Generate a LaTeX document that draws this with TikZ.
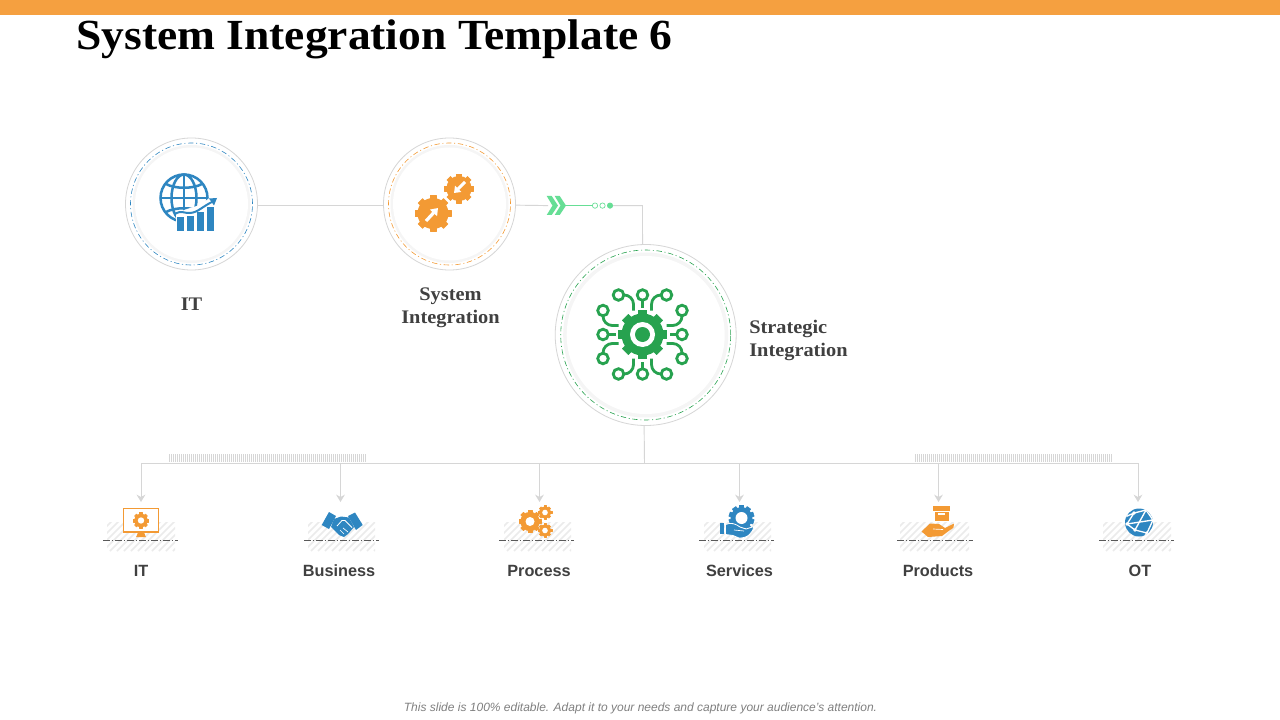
\documentclass[tikz,border=0pt]{standalone}
\usepackage{fontspec}
\setmainfont{Liberation Serif}
\setsansfont{Liberation Sans}
\newfontfamily\widefont[FakeStretch=1.06]{Liberation Serif}
\usepackage{tikz}
\usetikzlibrary{arrows.meta,calc,positioning}
\definecolor{topbar}{HTML}{F5A040}
\definecolor{iconblue}{HTML}{2E86C1}
\definecolor{iconorange}{HTML}{F39A34}
\definecolor{icongreen}{HTML}{27A24F}
\definecolor{arrowgreen}{HTML}{66DE95}
\definecolor{linegray}{HTML}{D6D6D6}
\definecolor{labelgray}{HTML}{404040}
\tikzset{
    x=0.75pt,y=-0.75pt,
    ring/.style ={circle, draw=linegray, fill=white, line width=0.6pt, inner sep=0pt},
    halo/.style ={circle, fill=#1, inner sep=0pt},
    dashring/.style ={circle, draw=#1, line width=0.45pt, inner sep=0pt, dash pattern=on 4pt off 2pt on 0.8pt off 2pt},
    link/.style = {draw=linegray, line width=0.7pt},
    droplink/.style = {link, -{Stealth[length=5.5pt,width=6.5pt]}},
    hublabel/.style = {font=\widefont\bfseries\fontsize{14.4}{17.4}\selectfont, text=labelgray, align=center, inner sep=0pt},
    itemlabel/.style = {font=\sffamily\bfseries\fontsize{12.2}{15}\selectfont, text=labelgray, inner sep=0pt},
    tick/.style = {draw=linegray, line width=0.45pt},
    hatch/.style = {draw=black!8, line width=1.3pt},
    floor/.style = {draw=black!65, line width=0.45pt, dash pattern=on 5pt off 1.5pt on 1pt off 1.5pt},
    dot/.style = {circle, draw=arrowgreen, fill=#1, line width=0.5pt, minimum size=4pt, inner sep=0pt},
}
% gear: x, y, radius, teeth, colour
\newcommand{\gearicon}[5]{
    \begin{scope}[shift={(#1,#2)}]
        \fill[#5] (0,0) circle[radius={0.84*#3}];
        \foreach \i in {1,...,#4}
            \filldraw[#5,line width=0.4pt,line join=round,rotate={\i*360/#4}] ({-0.17*#3},{-0.97*#3}) rectangle ({0.17*#3},{-0.6*#3});
    \end{scope}
}
\newcommand{\hatchpatch}[4]{
    \begin{scope}
        \clip (#1,#3) rectangle (#2,#4);
        \foreach \s in {0,7,...,105}
            \draw[hatch] ({#1+\s-32},#4) -- ++(34,-34);
    \end{scope}
}
\begin{document}
\begin{tikzpicture}
    \useasboundingbox (0,0) rectangle (1280,720);
    \fill[white] (0,0) rectangle (1280,720);
    \fill[topbar] (0,0) rectangle (1280,15);
    \node[anchor=base west, inner sep=0pt, font=\widefont\bfseries\fontsize{32.2}{36}\selectfont] (title) at (76,50) {System Integration Template 6};

    % the three hubs
    \foreach \name/\x/\y/\dout/\ddash/\dhalo/\dwhite/\col in {itring/191.5/204/132/122/118/113/iconblue, sysring/449.5/204/132/122/118/113/iconorange, stratring/645.7/335/181/170/165/158/icongreen}{
        \node[ring, minimum size=\dout*0.75pt] (\name) at (\x,\y) {};
        \node[halo=black!4, minimum size=\dhalo*0.75pt] (\name halo) at (\x,\y) {};
        \node[halo=white, minimum size=\dwhite*0.75pt] (\name core) at (\x,\y) {};
        \node[dashring=\col, minimum size=\ddash*0.75pt] (\name dash) at (\x,\y) {};
    }

    % green arrow on the line
    \foreach \s in {0,8}
        \fill[arrowgreen] ({546.7+\s},196) -- ({551.7+\s},196) -- ({558+\s},205.6) -- ({551.7+\s},215) -- ({546.7+\s},215) -- ({552.5+\s},205.6) -- cycle;
    \node[dot=white] (dota) at (595,205.6) {};
    \node[dot=white] (dotb) at (602.5,205.6) {};
    \node[dot=arrowgreen] (dotc) at (610,205.6) {};
    \coordinate (chevtail) at (548,205.6);
    \coordinate (chevtip) at (565,205.6);
    \coordinate (elbow) at (642.5,205.6);
    \coordinate (busjoin) at (644.5,463);
    \draw[link] (itring.-1) -- (sysring.181);
    \draw[link] (sysring.-1) -- (chevtail);
    \draw[arrowgreen, line width=1.1pt] (chevtip) -- (dota);
    \draw[link] (dotc) -- (elbow) -- (stratring.92);
    \draw[link] (stratring.269) -- (busjoin);

    \node[hublabel] (itlabel) at (191.5,304) {IT};
    \node[hublabel] (syslabel) at (450.5,308) {System\\Integration};
    \node[hublabel, align=left, anchor=west] (stratlabel) at (749,340.5) {Strategic\\Integration};

    % globe and bars
    \begin{scope}[iconblue, line width=1.9pt]
        \draw (184,198) circle[radius=23.5];
        \draw (184,198) ellipse[x radius=12.5, y radius=23.5];
        \draw (184,174.5) -- (184,221.5);
        \draw (160.5,198) -- (207.5,198);
        \draw (166,184) .. controls (175,189) and (193,189) .. (202,184);
        \draw (166,212) .. controls (175,207) and (193,207) .. (202,212);
    \end{scope}
    \fill[white] (176,213) -- (190,208) -- (200,205) -- (212,196) -- (222,194) -- (222,236) -- (176,236) -- cycle;
    \draw[iconblue, line width=1.5pt] (175,214) .. controls (181,210) and (185,213.5) .. (190,213) .. controls (198,212.5) and (203,206) .. (213,201.5);
    \fill[iconblue] (217,198) -- (209,198.5) -- (214,205.5) -- cycle;
    \foreach \x/\y in {176.7/217, 186.7/216, 196.7/212, 206.7/207}
        \fill[iconblue] (\x,\y) rectangle ({\x+7},231);

    % system gears
    \gearicon{433}{213.5}{18.5}{8}{iconorange}
    \gearicon{459}{188.5}{15}{8}{iconorange}
    \draw[white, line width=2.4pt, -{Triangle[length=5pt,width=7pt]}] (426,221) -- (438,208);
    \draw[white, line width=2.2pt, -{Triangle[length=4.5pt,width=6.5pt]}] (465,182) -- (454,193);

    % strategic icon
    \begin{scope}[shift={(642.5,334.5)}]
        \foreach \a in {0,90,180,270}{
            \begin{scope}[rotate=\a, icongreen, line width=2.1pt]
                \draw (0,-39.5) circle[radius=5.3];
                \draw (-24,-39.5) circle[radius=5.3];
                \draw (24,-39.5) circle[radius=5.3];
                \draw (0,-34) -- (0,-27);
                \draw[rounded corners=7pt] (-18.5,-39.5) -- (-9,-39.5) -- (-9,-24);
                \draw[rounded corners=7pt] (18.5,-39.5) -- (9,-39.5) -- (9,-24);
            \end{scope}
        }
    \end{scope}
    \fill[white] (642.5,334.5) circle[radius=24];
    \gearicon{642.5}{334.5}{25}{8}{icongreen}
    \fill[white] (642.5,334.5) circle[radius=12.5];
    \fill[icongreen] (642.5,334.5) circle[radius=7.5];

    % bus and drops
    \foreach \i/\x in {1/141,2/340.5,3/539.5,4/739.5,5/938.5,6/1138}{
        \coordinate (drop\i) at (\x,463);
        \coordinate (dock\i) at (\x,502);
        \draw[droplink] (drop\i) -- (dock\i);
    }
    \draw[link] (drop1) -- (drop6);
    \foreach \s in {169,171,...,366}
        \draw[tick] (\s,454) -- (\s,462);
    \foreach \s in {915,917,...,1112}
        \draw[tick] (\s,454) -- (\s,462);

    % floors under the icons
    \foreach \xa/\xb/\la/\lb in {107/175/103/178, 308/375/304/379, 504/571/499/574, 704/771/699/774, 900/969/897/973, 1103/1171/1099/1174}{
        \hatchpatch{\xa}{\xb}{522}{551}
        \draw[floor] (\la,540.5) -- (\lb,540.5);
    }

    % IT monitor
    \draw[iconorange, fill=white, line width=1pt] (123.5,508.5) rectangle (158.5,532);
    \fill[iconorange] (138,532) -- (144,532) -- (145,535) -- (146,537) -- (136,537) -- (137,535) -- cycle;
    \gearicon{141}{520.5}{8}{8}{iconorange}
    \fill[white] (141,520.5) circle[radius=3.2];

    % handshake
    \fill[iconblue] (321.7,525) -- (329,512) -- (336,516) -- (329,529) -- cycle;
    \fill[iconblue] (362.7,525) -- (355,512.5) -- (348,516) -- (356,530) -- cycle;
    \fill[iconblue] (334,519) -- (341,516.5) -- (349,517.5) -- (354,527) -- (348,534) -- (344,537) -- (339,535) -- (331,527) -- cycle;
    \draw[white, line width=0.6pt] (337,526) -- (342,520.5) -- (345,520.5) -- (352,527.5);
    \draw[white, line width=0.5pt] (340,530) -- (344,534);
    \draw[white, line width=0.5pt] (343,528) -- (348,532);

    % process gears
    \gearicon{530}{521.5}{11.5}{8}{iconorange}
    \gearicon{545}{512.5}{7}{8}{iconorange}
    \gearicon{545}{530.5}{7}{8}{iconorange}
    \fill[white] (530,521.5) circle[radius=4.5];
    \fill[white] (545,512.5) circle[radius=2.8];
    \fill[white] (545,530.5) circle[radius=2.8];

    % services
    \gearicon{741.5}{518}{13}{10}{iconblue}
    \fill[white] (741.5,518) circle[radius=6];
    \fill[iconblue] (720,522.7) rectangle (724,534.3);
    \filldraw[fill=iconblue, draw=white, line width=0.6pt] (725.5,524.5) .. controls (731,522) and (736,524) .. (740,527) -- (746,529) -- (754,526.5) .. controls (753,532) and (748,538.5) .. (739,538) -- (733,535.5) -- (725.5,534.5) -- cycle;
    \draw[white, line width=0.5pt] (734,530) -- (744,531);

    % products
    \fill[iconorange] (933,506) rectangle (950,510.5);
    \fill[iconorange] (934.5,511.5) rectangle (948.5,521);
    \fill[white] (938,512.5) rectangle (945,514.5);
    \fill[iconorange] (921.5,531.5) -- (930,523.5) -- (939,524) -- (945,528) -- (954,523.5) .. controls (955,526) and (953,529) .. (950,530) -- (942,536) -- (928,537) -- cycle;
    \draw[white, line width=0.5pt] (933,529) -- (943,529.5);

    % OT globe
    \fill[iconblue] (1139,522.5) circle[radius=14];
    \begin{scope}
        \clip (1139,522.5) circle[radius=14];
        \draw[white, line width=1pt] (1125,517) -- (1134,513) -- (1146,510) -- (1153,520) -- (1147,533) -- (1135,530) -- (1127,524) -- (1134,513);
        \draw[white, line width=1pt] (1146,510) -- (1135,530);
        \draw[white, line width=1pt] (1153,520) -- (1127,524);
        \draw[white, line width=1pt] (1147,533) -- (1143,538);
        \foreach \x/\y in {1134/513,1146/510,1153/520,1147/533,1135/530,1127/524}
            \fill[white] (\x,\y) circle[radius=1.8];
    \end{scope}

    \foreach \i/\x/\txt in {1/141/IT,2/339/Business,3/539/Process,4/739.5/Services,5/938/Products,6/1140/OT}
        \node[itemlabel] (item\i) at (\x,571) {\txt};

    \node[inner sep=0pt, text=black!50, font=\sffamily\itshape\fontsize{9}{11}\selectfont] (footnote) at (640.5,708) {This slide is 100\% editable. Adapt it to your needs and capture your audience's attention.};
\end{tikzpicture}
\end{document}
